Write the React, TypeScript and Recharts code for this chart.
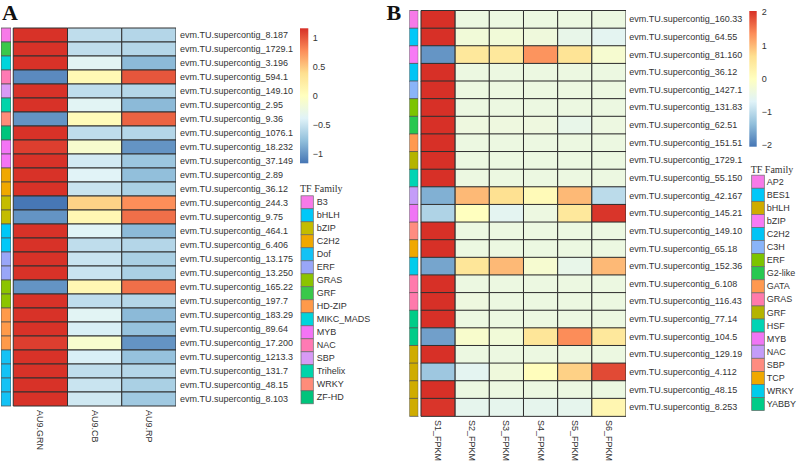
import React from 'react';
import { BarChart, Bar, XAxis, YAxis, Cell } from 'recharts';

// ---------------- Panel A data ----------------
const GENES_A = [
  'evm.TU.supercontig_8.187', 'evm.TU.supercontig_1729.1', 'evm.TU.supercontig_3.196',
  'evm.TU.supercontig_594.1', 'evm.TU.supercontig_149.10', 'evm.TU.supercontig_2.95',
  'evm.TU.supercontig_9.36', 'evm.TU.supercontig_1076.1', 'evm.TU.supercontig_18.232',
  'evm.TU.supercontig_37.149', 'evm.TU.supercontig_2.89', 'evm.TU.supercontig_36.12',
  'evm.TU.supercontig_244.3', 'evm.TU.supercontig_9.75', 'evm.TU.supercontig_464.1',
  'evm.TU.supercontig_6.406', 'evm.TU.supercontig_13.175', 'evm.TU.supercontig_13.250',
  'evm.TU.supercontig_165.22', 'evm.TU.supercontig_197.7', 'evm.TU.supercontig_183.29',
  'evm.TU.supercontig_89.64', 'evm.TU.supercontig_17.200', 'evm.TU.supercontig_1213.3',
  'evm.TU.supercontig_131.7', 'evm.TU.supercontig_48.15', 'evm.TU.supercontig_8.103',
];
const FAMILY_A = [
  'B3', 'GRF', 'MIKC_MADS', 'NAC', 'SBP', 'Trihelix', 'WRKY', 'ZF-HD', 'MYB', 'MYB',
  'C2H2', 'C2H2', 'bZIP', 'bZIP', 'bHLH', 'bHLH', 'ERF', 'ERF', 'GRAS', 'GRAS',
  'HD-ZIP', 'HD-ZIP', 'HD-ZIP', 'Dof', 'Dof', 'Dof', 'Dof',
];
const AU9_GRN = [1.15, 1.15, 1.15, -1.05, 1.15, 1.15, -1.0, 1.15, 1.1, 1.15, 1.15, 1.15, -1.15, -1.0, 1.15, 1.15, 1.15, 1.15, -1.0, 1.15, 1.15, 1.15, 1.1, 1.15, 1.15, 1.15, 1.15];
const AU9_CB = [-0.55, -0.55, -0.36, 0.08, -0.55, -0.36, 0.05, -0.55, -0.1, -0.45, -0.38, -0.5, 0.45, 0.1, -0.37, -0.55, -0.5, -0.5, 0.1, -0.55, -0.36, -0.42, -0.1, -0.42, -0.55, -0.5, -0.47];
const AU9_RP = [-0.6, -0.6, -0.8, 1.0, -0.6, -0.8, 0.95, -0.6, -1.0, -0.72, -0.77, -0.65, 0.77, 0.9, -0.8, -0.6, -0.65, -0.65, 0.9, -0.6, -0.8, -0.75, -1.0, -0.75, -0.6, -0.65, -0.7];
const SAMPLES_A = ['AU9.GRN', 'AU9.CB', 'AU9.RP'];
const LEGEND_FAMILIES_A = ['B3', 'bHLH', 'bZIP', 'C2H2', 'Dof', 'ERF', 'GRAS', 'GRF', 'HD-ZIP', 'MIKC_MADS', 'MYB', 'NAC', 'SBP', 'Trihelix', 'WRKY', 'ZF-HD'];
const FAMILY_COLORS_A: Record<string, string> = {
  B3: '#f77ae8', bHLH: '#00c8f8', bZIP: '#c4bc00', C2H2: '#f0a800', Dof: '#14c2f5',
  ERF: '#99a6f8', GRAS: '#8cc400', GRF: '#3ac84a', 'HD-ZIP': '#ff9a4a', MIKC_MADS: '#00d4dc',
  MYB: '#f474f5', NAC: '#ff7ab4', SBP: '#d89af5', Trihelix: '#00d4aa', WRKY: '#ff8c7a', 'ZF-HD': '#00c47c',
};
const COLORBAR_TICKS_A = [1, 0.5, 0, -0.5, -1];
const LIMIT_A = 1.16;

// ---------------- Panel B data ----------------
const GENES_B = [
  'evm.TU.supercontig_160.33', 'evm.TU.supercontig_64.55', 'evm.TU.supercontig_81.160',
  'evm.TU.supercontig_36.12', 'evm.TU.supercontig_1427.1', 'evm.TU.supercontig_131.83',
  'evm.TU.supercontig_62.51', 'evm.TU.supercontig_151.51', 'evm.TU.supercontig_1729.1',
  'evm.TU.supercontig_55.150', 'evm.TU.supercontig_42.167', 'evm.TU.supercontig_145.21',
  'evm.TU.supercontig_149.10', 'evm.TU.supercontig_65.18', 'evm.TU.supercontig_152.36',
  'evm.TU.supercontig_6.108', 'evm.TU.supercontig_116.43', 'evm.TU.supercontig_77.14',
  'evm.TU.supercontig_104.5', 'evm.TU.supercontig_129.19', 'evm.TU.supercontig_4.112',
  'evm.TU.supercontig_48.15', 'evm.TU.supercontig_8.253',
];
const FAMILY_B = [
  'AP2', 'BES1', 'bZIP', 'C2H2', 'C3H', 'ERF', 'G2-like', 'GATA', 'GRF', 'HSF', 'NAC', 'MYB',
  'SBP', 'TCP', 'WRKY', 'GRAS', 'GRAS', 'YABBY', 'YABBY', 'bHLH', 'bHLH', 'bHLH', 'bHLH',
];
const S1_FPKM = [2.04, 2.04, -1.75, 2.04, 2.04, 2.04, 2.04, 2.04, 2.04, 2.04, -1.5, -1.1, 2.04, 2.04, -1.6, 2.04, 2.04, 2.04, -1.65, 2.04, -1.25, 2.04, 2.0];
const S2_FPKM = [-0.41, -0.3, 0.5, -0.41, -0.41, -0.41, -0.38, -0.41, -0.41, -0.41, 1.0, 0.0, -0.41, -0.41, 0.55, -0.41, -0.38, -0.41, -0.15, -0.41, -0.6, -0.41, -0.55];
const S3_FPKM = [-0.41, -0.3, 0.5, -0.41, -0.41, -0.41, -0.38, -0.41, -0.41, -0.41, 0.65, -0.6, -0.41, -0.41, 1.0, -0.41, -0.41, -0.41, -0.3, -0.41, -0.35, -0.41, -0.55];
const S4_FPKM = [-0.41, -0.35, 1.3, -0.41, -0.41, -0.41, -0.38, -0.41, -0.41, -0.41, 0.1, -0.4, -0.41, -0.41, -0.2, -0.41, -0.41, -0.41, 0.55, -0.41, 0.05, -0.41, -0.55];
const S5_FPKM = [-0.41, -0.5, 0.6, -0.41, -0.41, -0.41, -0.5, -0.41, -0.41, -0.41, 1.0, 0.5, -0.41, -0.41, -0.5, -0.41, -0.41, -0.41, 1.36, -0.41, 0.8, -0.41, -0.55];
const S6_FPKM = [-0.41, -0.6, -0.2, -0.41, -0.41, -0.41, -0.4, -0.41, -0.41, -0.41, -1.0, 2.0, -0.41, -0.41, 1.0, -0.41, -0.41, -0.41, 0.5, -0.41, 1.85, -0.41, 0.2];
const SAMPLES_B = ['S1_FPKM', 'S2_FPKM', 'S3_FPKM', 'S4_FPKM', 'S5_FPKM', 'S6_FPKM'];
const LEGEND_FAMILIES_B = ['AP2', 'BES1', 'bHLH', 'bZIP', 'C2H2', 'C3H', 'ERF', 'G2-like', 'GATA', 'GRAS', 'GRF', 'HSF', 'MYB', 'NAC', 'SBP', 'TCP', 'WRKY', 'YABBY'];
const FAMILY_COLORS_B: Record<string, string> = {
  AP2: '#f77ae8', BES1: '#00c8f8', bHLH: '#cfac00', bZIP: '#f77af5', C2H2: '#00c4f5',
  C3H: '#8ab4f8', ERF: '#7cc400', 'G2-like': '#28c850', GATA: '#ff9950', GRAS: '#ff7aac',
  GRF: '#b4b400', HSF: '#00d4b4', MYB: '#f075f5', NAC: '#c49cf8', SBP: '#ff8c80',
  TCP: '#f0a800', WRKY: '#00ccec', YABBY: '#00cc88',
};
const COLORBAR_TICKS_B = [2, 1, 0, -1, -2];
const LIMIT_B = 2.04;

// ---------------- helpers ----------------
const PALETTE = ['#4575B4', '#91BFDB', '#E0F3F8', '#FFFFBF', '#FEE090', '#FC8D59', '#D73027'];
const SANS = '"Liberation Sans", Arial, sans-serif';
const SERIF = '"Liberation Serif", "Times New Roman", serif';

function hexToRgb(h: string) {
  return [parseInt(h.slice(1, 3), 16), parseInt(h.slice(3, 5), 16), parseInt(h.slice(5, 7), 16)];
}
function heatColor(v: number, lim: number) {
  const t = Math.max(0, Math.min(1, (v + lim) / (2 * lim))) * (PALETTE.length - 1);
  const i = Math.min(Math.floor(t), PALETTE.length - 2);
  const f = t - i;
  const a = hexToRgb(PALETTE[i]);
  const b = hexToRgb(PALETTE[i + 1]);
  const c = a.map((x, k) => Math.round(x + (b[k] - x) * f));
  return `rgb(${c[0]},${c[1]},${c[2]})`;
}

type HeatProps = {
  genes: string[];
  families: string[];
  famColors: Record<string, string>;
  series: number[][];
  samples: string[];
  lim: number;
  width: number;
  height: number;
  margin: { top: number; right: number; bottom: number; left: number };
  annW: number;
  gapW: number;
  yAxisWidth: number;
  xAxisHeight: number;
  labelGap: number;
};

function Heatmap(p: HeatProps) {
  const rows = p.genes.map((g, i) => {
    const r: any = { gene: g, fam: p.families[i], ann: p.annW, gap: p.gapW };
    p.series.forEach((s, j) => {
      r['c' + j] = 1;
      r['z' + j] = s[i];
    });
    return r;
  });
  const offset = p.annW + p.gapW;
  const total = offset + p.series.length;
  const ticks = p.samples.map((_, j) => offset + j + 0.5);

  const ColTick = (props: any) => {
    const { x, y, payload } = props;
    const idx = Math.round(payload.value - offset - 0.5);
    return (
      <text x={x} y={y} transform={`rotate(90 ${x} ${y})`} textAnchor="start" dominantBaseline="central"
        fontSize={9} fontFamily={SANS} fill="#333">
        {p.samples[idx]}
      </text>
    );
  };
  const RowTick = (props: any) => {
    const { x, y, payload } = props;
    return (
      <text x={x} y={y} textAnchor="start" dominantBaseline="central" fontSize={9} fontFamily={SANS} fill="#333">
        {payload.value}
      </text>
    );
  };

  return (
    <BarChart width={p.width} height={p.height} data={rows} layout="vertical" margin={p.margin}
      barCategoryGap={0} barGap={0}>
      <XAxis type="number" domain={[0, total]} ticks={ticks} interval={0} allowDataOverflow
        axisLine={false} tickLine={false} tickSize={0} tickMargin={4} height={p.xAxisHeight} tick={ColTick} />
      <YAxis type="category" dataKey="gene" orientation="right" width={p.yAxisWidth} axisLine={false}
        tickLine={false} tickSize={0} tickMargin={p.labelGap} interval={0} tick={RowTick} />
      <Bar dataKey="ann" stackId="h" isAnimationActive={false} stroke="#555" strokeWidth={0.8}>
        {rows.map((r, i) => <Cell key={i} fill={p.famColors[r.fam]} />)}
      </Bar>
      <Bar dataKey="gap" stackId="h" isAnimationActive={false} fill="#ffffff" />
      {p.series.map((_, j) => (
        <Bar key={j} dataKey={'c' + j} stackId="h" isAnimationActive={false} stroke="#303030" strokeWidth={1}>
          {rows.map((r, i) => <Cell key={i} fill={heatColor(r['z' + j], p.lim)} />)}
        </Bar>
      ))}
    </BarChart>
  );
}

function ColorBar({ id, x, top, bottom, w, lim, ticks, tickX }: any) {
  const center = (top + bottom) / 2;
  const scale = (bottom - top) / (2 * lim);
  return (
    <g>
      <defs>
        <linearGradient id={id} x1="0" y1="0" x2="0" y2="1">
          {PALETTE.slice().reverse().map((c, i) => (
            <stop key={i} offset={`${(i / (PALETTE.length - 1)) * 100}%`} stopColor={c} />
          ))}
        </linearGradient>
      </defs>
      <rect x={x} y={top} width={w} height={bottom - top} fill={`url(#${id})`} />
      {ticks.map((v: number) => (
        <text key={v} x={tickX} y={center - v * scale} dominantBaseline="central" fontSize={9}
          fontFamily={SANS} fill="#333">
          {v < 0 ? '\u2212' + Math.abs(v) : String(v)}
        </text>
      ))}
    </g>
  );
}

function FamilyLegend({ x, titleY, firstY, step, boxW, labelX, families, colors }: any) {
  return (
    <g>
      <text x={x - 1} y={titleY} dominantBaseline="central" fontSize={10} fontFamily={SERIF} fill="#333">TF Family</text>
      {families.map((f: string, i: number) => (
        <g key={f}>
          <rect x={x} y={firstY + i * step - step / 2} width={boxW} height={step} fill={colors[f]}
            stroke="#6a6a6a" strokeWidth={0.7} />
          <text x={labelX} y={firstY + i * step} dominantBaseline="central" fontSize={9} fontFamily={SANS} fill="#333">
            {f}
          </text>
        </g>
      ))}
    </g>
  );
}

export default function App() {
  return (
    <div style={{ position: 'absolute', left: 0, top: 0, width: 798, height: 461, background: '#fff', overflow: 'hidden' }}>
      <div style={{ position: 'absolute', left: 0, top: 0 }}>
        <Heatmap genes={GENES_A} families={FAMILY_A} famColors={FAMILY_COLORS_A}
          series={[AU9_GRN, AU9_CB, AU9_RP]} samples={SAMPLES_A} lim={LIMIT_A}
          width={299} height={456} margin={{ top: 28, right: 0, bottom: 0, left: 1 }}
          annW={0.184} gapW={0.042} yAxisWidth={123} xAxisHeight={50} labelGap={4} />
      </div>
      <div style={{ position: 'absolute', left: 400, top: 0 }}>
        <Heatmap genes={GENES_B} families={FAMILY_B} famColors={FAMILY_COLORS_B}
          series={[S1_FPKM, S2_FPKM, S3_FPKM, S4_FPKM, S5_FPKM, S6_FPKM]} samples={SAMPLES_B} lim={LIMIT_B}
          width={346} height={461} margin={{ top: 10.5, right: 0, bottom: 0, left: 9.3 }}
          annW={0.263} gapW={0.079} yAxisWidth={120} xAxisHeight={45} labelGap={3.3} />
      </div>
      <svg width={798} height={461} style={{ position: 'absolute', left: 0, top: 0, pointerEvents: 'none' }}>
        <text x={2} y={20} fontSize={22} fontWeight="bold" fontFamily={SERIF} fill="#111">A</text>
        <text x={386.5} y={20} fontSize={22} fontWeight="bold" fontFamily={SERIF} fill="#111">B</text>
        <ColorBar id="cbA" x={300} top={28.3} bottom={163.3} w={8.3} lim={LIMIT_A} ticks={COLORBAR_TICKS_A} tickX={312.7} />
        <ColorBar id="cbB" x={749.3} top={11} bottom={146.7} w={7.4} lim={LIMIT_B} ticks={COLORBAR_TICKS_B} tickX={761.7} />
        <FamilyLegend x={301} titleY={188.3} firstY={202.3} step={13} boxW={12.3} labelX={316.7}
          families={LEGEND_FAMILIES_A} colors={FAMILY_COLORS_A} />
        <FamilyLegend x={751.7} titleY={169} firstY={181.7} step={13.08} boxW={12.6} labelX={766.7}
          families={LEGEND_FAMILIES_B} colors={FAMILY_COLORS_B} />
      </svg>
    </div>
  );
}
